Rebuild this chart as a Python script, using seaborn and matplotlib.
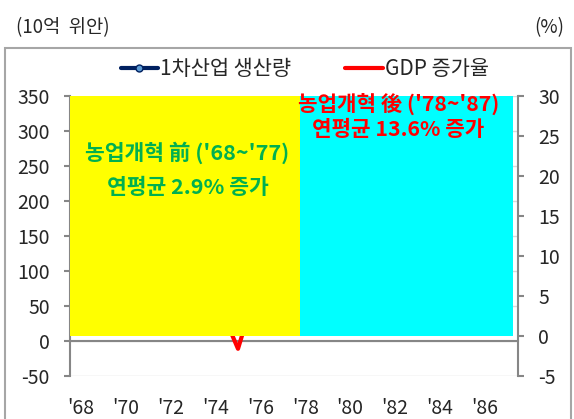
#imports
import numpy as np
import pandas as pd
import matplotlib
matplotlib.use('Agg')
import matplotlib.pyplot as plt
import matplotlib.patches as mpatches
from matplotlib.lines import Line2D
import seaborn as sns

#dados (10억 위안 / %)
anos = ["'68", "'69", "'70", "'71", "'72", "'73", "'74", "'75", "'76", "'77",
        "'78", "'79", "'80", "'81", "'82", "'83", "'84", "'85", "'86", "'87"]
producao = [72.6, 74.3, 79.3, 82.6, 82.7, 90.7, 94.5, 97.1, 96.8, 94.2,
            101.8, 125.9, 135.9, 154.6, 176.2, 196.1, 229.6, 256.4, 278.9, 323.3]
gdp_cresc = [5.0, 16.9, 19.3, 7.1, 3.8, 7.8, 5.0, -1.6, 7.6, 11.7,
             7.6, 7.8, 5.1, 9.0, 10.8, 15.2, 13.4, 8.9, 11.7, 11.3]
nome_prod = '1차산업 생산량'
nome_gdp = 'GDP 증가율'
texto_antes = "농업개혁 前 ('68~'77)\n연평균 2.9% 증가"
texto_depois = "농업개혁 後 ('78~'87)\n연평균 13.6% 증가"

#caixas dos periodos (em unidades do eixo esquerdo)
caixa_antes = (0, 10.27, 7, 350)
caixa_depois = (10.27, 19.78, 7, 350)

df = pd.DataFrame({'pos': np.arange(len(anos)) + 0.5, 'prod': producao, 'gdp': gdp_cresc})

sns.set_style('white')
fonte = ['Noto Sans CJK KR', 'DejaVu Sans']
plt.rcParams['font.family'] = fonte
plt.rcParams['axes.unicode_minus'] = False

cinza = '#868686'
navy = '#002060'

fig = plt.figure(figsize=(5.74, 4.19), dpi=100)
ax = fig.add_axes([70/574, 43/419, 448/574, 280/419])
ax2 = ax.twinx()

sns.lineplot(data=df, x='pos', y='prod', ax=ax, color=navy, lw=3, marker='o',
             markersize=5, markerfacecolor='#5B9BD5', markeredgecolor=navy, legend=False)
sns.lineplot(data=df, x='pos', y='gdp', ax=ax2, color='#FF0000', lw=3, legend=False, zorder=2)

ax.set_xlim(0, 20)
ax.set_ylim(-50, 350)
ax.set_yticks(range(-50, 351, 50))
ax2.set_ylim(-5, 30)
ax2.set_yticks(range(-5, 31, 5))
ax.set_xlabel('')
ax.set_ylabel('')
ax2.set_ylabel('')

for s in ['top', 'right']:
    ax.spines[s].set_visible(False)
ax.spines['left'].set_color(cinza)
ax.spines['left'].set_linewidth(1.5)
ax.spines['bottom'].set_position(('data', 0))
ax.spines['bottom'].set_color(cinza)
ax.spines['bottom'].set_linewidth(1.5)
for s in ['top', 'left', 'bottom']:
    ax2.spines[s].set_visible(False)
ax2.spines['right'].set_color(cinza)
ax2.spines['right'].set_linewidth(1.5)

#grade
ax.yaxis.grid(True, color='#d9d9d9', lw=1)
ax.set_axisbelow(True)

#ticks
ax.set_xticks(range(0, 21))
ax.set_xticklabels([])
ax.set_xticks(np.arange(0, 20, 2) + 0.5, minor=True)
ax.set_xticklabels(anos[::2], minor=True)
ax.tick_params(axis='x', which='major', direction='out', length=4.5, width=1.5, color=cinza)
ax.tick_params(axis='x', which='minor', length=0, pad=41, labelsize=14)
ax.tick_params(axis='y', direction='out', length=4.5, width=1.5, color=cinza, labelsize=14, pad=10, left=True)
ax2.tick_params(axis='y', direction='out', length=4.5, width=1.5, color=cinza, labelsize=14, pad=10, right=True)

#caixas coloridas por cima das linhas
for (x0, x1, y0, y1), cor in [(caixa_antes, '#FFFF00'), (caixa_depois, '#00FFFF')]:
    ax2.add_patch(mpatches.Rectangle((x0, y0), x1 - x0, y1 - y0, transform=ax.transData,
                                     facecolor=cor, edgecolor='none', zorder=3))

ax2.text(5.25, 245, texto_antes, transform=ax.transData, ha='center', va='center',
         ma='center', color='#00B050', fontsize=15.5, fontweight='bold', linespacing=1.75, zorder=4)
ax2.text(14.65, 321, texto_depois, transform=ax.transData, ha='center', va='center',
         ma='center', color='#FF0000', fontsize=15.3, fontweight='bold', linespacing=1.2, zorder=4)

#legenda
handles = [Line2D([], [], color=navy, lw=3, marker='o', markersize=5,
                  markerfacecolor='#5B9BD5', markeredgecolor=navy),
           Line2D([], [], color='#FF0000', lw=3)]
fig.legend(handles, [nome_prod, nome_gdp], loc='center', bbox_to_anchor=(0.531, 1 - 69/419),
           ncol=2, frameon=False, fontsize=15, handlelength=1.8, handletextpad=0.1,
           columnspacing=2.6)

#rotulos das unidades
fig.text(16/574, 1 - 28/419, '(10억  위안)', ha='left', va='center', fontsize=13.5)
fig.text(564/574, 1 - 28/419, '(%)', ha='right', va='center', fontsize=13.5)

#moldura do grafico
fig.add_artist(mpatches.Rectangle((5/574, -0.05), 566/574, (419 - 48)/419 + 0.05,
                                  transform=fig.transFigure, fill=False,
                                  edgecolor='#a6a6a6', lw=1.5))

fig.savefig('out.png', dpi=100)
